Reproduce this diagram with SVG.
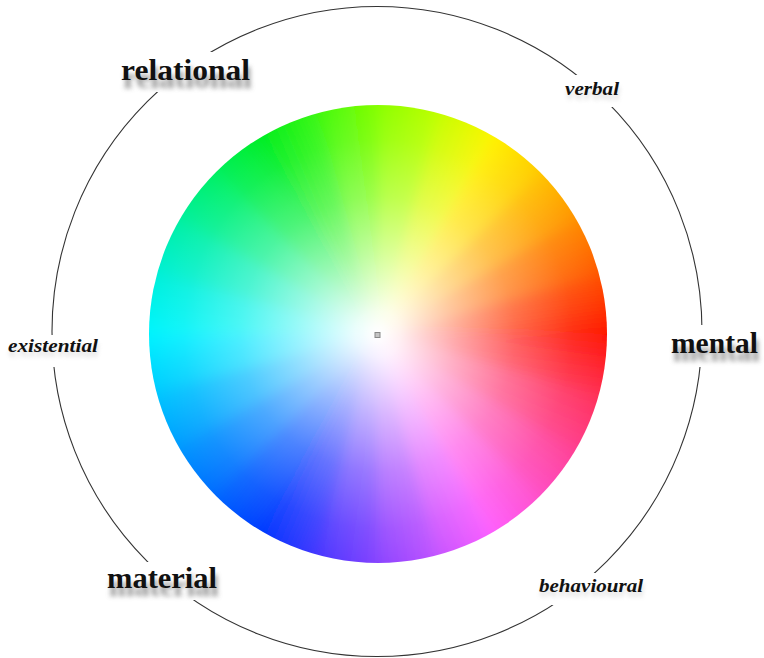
<svg xmlns="http://www.w3.org/2000/svg" width="764" height="658" viewBox="0 0 764 658">
<style>
.bold{font-family:"Liberation Serif","DejaVu Serif",serif;font-weight:bold;font-size:29px;fill:#111}
.ital{font-family:"Liberation Serif","DejaVu Serif",serif;font-weight:bold;font-style:italic;font-size:18px;fill:#111}
.shadow{fill:#666;filter:url(#sh);opacity:0.7}
.shadowi{fill:#999;filter:url(#sh2);opacity:0.3}
.gap{fill:#fff}
.w{stroke-width:1.2}
</style>
<defs>
<filter id="sh" x="-20%" y="-50%" width="140%" height="220%"><feGaussianBlur stdDeviation="2.6"/></filter>
<filter id="sh2" x="-20%" y="-50%" width="140%" height="220%"><feGaussianBlur stdDeviation="2"/></filter>
<filter id="wblur" x="-10%" y="-10%" width="120%" height="120%"><feGaussianBlur stdDeviation="6"/></filter>
<clipPath id="wheelClip"><circle cx="378" cy="334" r="229"/></clipPath>
<linearGradient id="g0" gradientUnits="userSpaceOnUse" x1="610" y1="334" x2="602.1" y2="274"><stop offset="0" stop-color="#FF1500"/><stop offset="1" stop-color="#FF5500"/></linearGradient>
<linearGradient id="g1" gradientUnits="userSpaceOnUse" x1="602.1" y1="274" x2="578.9" y2="218"><stop offset="0" stop-color="#FF5500"/><stop offset="1" stop-color="#FF9000"/></linearGradient>
<linearGradient id="g2" gradientUnits="userSpaceOnUse" x1="578.9" y1="218" x2="542" y2="170"><stop offset="0" stop-color="#FF9000"/><stop offset="1" stop-color="#FFC800"/></linearGradient>
<linearGradient id="g3" gradientUnits="userSpaceOnUse" x1="542" y1="170" x2="494" y2="133.1"><stop offset="0" stop-color="#FFC800"/><stop offset="1" stop-color="#FFF500"/></linearGradient>
<linearGradient id="g4" gradientUnits="userSpaceOnUse" x1="494" y1="133.1" x2="438" y2="109.9"><stop offset="0" stop-color="#FFF500"/><stop offset="1" stop-color="#C0FF00"/></linearGradient>
<linearGradient id="g5" gradientUnits="userSpaceOnUse" x1="438" y1="109.9" x2="378" y2="102"><stop offset="0" stop-color="#C0FF00"/><stop offset="1" stop-color="#88FF00"/></linearGradient>
<linearGradient id="g6" gradientUnits="userSpaceOnUse" x1="378" y1="102" x2="318" y2="109.9"><stop offset="0" stop-color="#88FF00"/><stop offset="1" stop-color="#40F810"/></linearGradient>
<linearGradient id="g7" gradientUnits="userSpaceOnUse" x1="318" y1="109.9" x2="262" y2="133.1"><stop offset="0" stop-color="#40F810"/><stop offset="1" stop-color="#00EE20"/></linearGradient>
<linearGradient id="g8" gradientUnits="userSpaceOnUse" x1="262" y1="133.1" x2="214" y2="170"><stop offset="0" stop-color="#00EE20"/><stop offset="1" stop-color="#00F060"/></linearGradient>
<linearGradient id="g9" gradientUnits="userSpaceOnUse" x1="214" y1="170" x2="177.1" y2="218"><stop offset="0" stop-color="#00F060"/><stop offset="1" stop-color="#00F0A0"/></linearGradient>
<linearGradient id="g10" gradientUnits="userSpaceOnUse" x1="177.1" y1="218" x2="153.9" y2="274"><stop offset="0" stop-color="#00F0A0"/><stop offset="1" stop-color="#00F0D8"/></linearGradient>
<linearGradient id="g11" gradientUnits="userSpaceOnUse" x1="153.9" y1="274" x2="146" y2="334"><stop offset="0" stop-color="#00F0D8"/><stop offset="1" stop-color="#00F5FF"/></linearGradient>
<linearGradient id="g12" gradientUnits="userSpaceOnUse" x1="146" y1="334" x2="153.9" y2="394"><stop offset="0" stop-color="#00F5FF"/><stop offset="1" stop-color="#00C8FF"/></linearGradient>
<linearGradient id="g13" gradientUnits="userSpaceOnUse" x1="153.9" y1="394" x2="177.1" y2="450"><stop offset="0" stop-color="#00C8FF"/><stop offset="1" stop-color="#0098FF"/></linearGradient>
<linearGradient id="g14" gradientUnits="userSpaceOnUse" x1="177.1" y1="450" x2="214" y2="498"><stop offset="0" stop-color="#0098FF"/><stop offset="1" stop-color="#0068FF"/></linearGradient>
<linearGradient id="g15" gradientUnits="userSpaceOnUse" x1="214" y1="498" x2="262" y2="534.9"><stop offset="0" stop-color="#0068FF"/><stop offset="1" stop-color="#0038FF"/></linearGradient>
<linearGradient id="g16" gradientUnits="userSpaceOnUse" x1="262" y1="534.9" x2="318" y2="558.1"><stop offset="0" stop-color="#0038FF"/><stop offset="1" stop-color="#4838FF"/></linearGradient>
<linearGradient id="g17" gradientUnits="userSpaceOnUse" x1="318" y1="558.1" x2="378" y2="566"><stop offset="0" stop-color="#4838FF"/><stop offset="1" stop-color="#8844FF"/></linearGradient>
<linearGradient id="g18" gradientUnits="userSpaceOnUse" x1="378" y1="566" x2="438" y2="558.1"><stop offset="0" stop-color="#8844FF"/><stop offset="1" stop-color="#C455FF"/></linearGradient>
<linearGradient id="g19" gradientUnits="userSpaceOnUse" x1="438" y1="558.1" x2="494" y2="534.9"><stop offset="0" stop-color="#C455FF"/><stop offset="1" stop-color="#FF60FF"/></linearGradient>
<linearGradient id="g20" gradientUnits="userSpaceOnUse" x1="494" y1="534.9" x2="542" y2="498"><stop offset="0" stop-color="#FF60FF"/><stop offset="1" stop-color="#FF50C8"/></linearGradient>
<linearGradient id="g21" gradientUnits="userSpaceOnUse" x1="542" y1="498" x2="578.9" y2="450"><stop offset="0" stop-color="#FF50C8"/><stop offset="1" stop-color="#FF4090"/></linearGradient>
<linearGradient id="g22" gradientUnits="userSpaceOnUse" x1="578.9" y1="450" x2="602.1" y2="394"><stop offset="0" stop-color="#FF4090"/><stop offset="1" stop-color="#FF3055"/></linearGradient>
<linearGradient id="g23" gradientUnits="userSpaceOnUse" x1="602.1" y1="394" x2="610" y2="334"><stop offset="0" stop-color="#FF3055"/><stop offset="1" stop-color="#FF1500"/></linearGradient>
<radialGradient id="whiteOverlay" gradientUnits="userSpaceOnUse" cx="378" cy="334" r="229">
<stop offset="0" stop-color="#fff" stop-opacity="1"/>
<stop offset="0.1" stop-color="#fff" stop-opacity="0.92"/>
<stop offset="0.35" stop-color="#fff" stop-opacity="0.6"/>
<stop offset="0.6" stop-color="#fff" stop-opacity="0.3"/>
<stop offset="0.85" stop-color="#fff" stop-opacity="0.08"/>
<stop offset="1" stop-color="#fff" stop-opacity="0"/>
</radialGradient>
</defs>
<rect width="764" height="658" fill="#fff"/>

<g id="connectors">
<circle cx="377" cy="331.5" r="325" fill="none" stroke="#333" stroke-width="1.1"/>
</g>

<g id="wheel" clip-path="url(#wheelClip)">
<g filter="url(#wblur)">
<g transform="translate(378 334) scale(1.08) translate(-378 -334)">
<path class="w" d="M378 334 L610 334 A232 232 0 0 0 602.1 274 Z" fill="url(#g0)" stroke="url(#g0)"/>
<path class="w" d="M378 334 L602.1 274 A232 232 0 0 0 578.9 218 Z" fill="url(#g1)" stroke="url(#g1)"/>
<path class="w" d="M378 334 L578.9 218 A232 232 0 0 0 542 170 Z" fill="url(#g2)" stroke="url(#g2)"/>
<path class="w" d="M378 334 L542 170 A232 232 0 0 0 494 133.1 Z" fill="url(#g3)" stroke="url(#g3)"/>
<path class="w" d="M378 334 L494 133.1 A232 232 0 0 0 438 109.9 Z" fill="url(#g4)" stroke="url(#g4)"/>
<path class="w" d="M378 334 L438 109.9 A232 232 0 0 0 378 102 Z" fill="url(#g5)" stroke="url(#g5)"/>
<path class="w" d="M378 334 L378 102 A232 232 0 0 0 318 109.9 Z" fill="url(#g6)" stroke="url(#g6)"/>
<path class="w" d="M378 334 L318 109.9 A232 232 0 0 0 262 133.1 Z" fill="url(#g7)" stroke="url(#g7)"/>
<path class="w" d="M378 334 L262 133.1 A232 232 0 0 0 214 170 Z" fill="url(#g8)" stroke="url(#g8)"/>
<path class="w" d="M378 334 L214 170 A232 232 0 0 0 177.1 218 Z" fill="url(#g9)" stroke="url(#g9)"/>
<path class="w" d="M378 334 L177.1 218 A232 232 0 0 0 153.9 274 Z" fill="url(#g10)" stroke="url(#g10)"/>
<path class="w" d="M378 334 L153.9 274 A232 232 0 0 0 146 334 Z" fill="url(#g11)" stroke="url(#g11)"/>
<path class="w" d="M378 334 L146 334 A232 232 0 0 0 153.9 394 Z" fill="url(#g12)" stroke="url(#g12)"/>
<path class="w" d="M378 334 L153.9 394 A232 232 0 0 0 177.1 450 Z" fill="url(#g13)" stroke="url(#g13)"/>
<path class="w" d="M378 334 L177.1 450 A232 232 0 0 0 214 498 Z" fill="url(#g14)" stroke="url(#g14)"/>
<path class="w" d="M378 334 L214 498 A232 232 0 0 0 262 534.9 Z" fill="url(#g15)" stroke="url(#g15)"/>
<path class="w" d="M378 334 L262 534.9 A232 232 0 0 0 318 558.1 Z" fill="url(#g16)" stroke="url(#g16)"/>
<path class="w" d="M378 334 L318 558.1 A232 232 0 0 0 378 566 Z" fill="url(#g17)" stroke="url(#g17)"/>
<path class="w" d="M378 334 L378 566 A232 232 0 0 0 438 558.1 Z" fill="url(#g18)" stroke="url(#g18)"/>
<path class="w" d="M378 334 L438 558.1 A232 232 0 0 0 494 534.9 Z" fill="url(#g19)" stroke="url(#g19)"/>
<path class="w" d="M378 334 L494 534.9 A232 232 0 0 0 542 498 Z" fill="url(#g20)" stroke="url(#g20)"/>
<path class="w" d="M378 334 L542 498 A232 232 0 0 0 578.9 450 Z" fill="url(#g21)" stroke="url(#g21)"/>
<path class="w" d="M378 334 L578.9 450 A232 232 0 0 0 602.1 394 Z" fill="url(#g22)" stroke="url(#g22)"/>
<path class="w" d="M378 334 L602.1 394 A232 232 0 0 0 610 334 Z" fill="url(#g23)" stroke="url(#g23)"/>
</g>
</g>
<circle cx="378" cy="334" r="230" fill="url(#whiteOverlay)"/>
</g>
<g id="center-mark">
<rect x="375" y="332.5" width="5" height="5" fill="#c4c4c4" stroke="#888" stroke-width="1"/>
</g>

<g id="relational">
<rect class="gap" x="115" y="52" width="140" height="40"/>
<text class="bold shadow" x="123" y="88" textLength="129" lengthAdjust="spacingAndGlyphs">relational</text>
<text class="bold" x="121" y="80" textLength="129" lengthAdjust="spacingAndGlyphs">relational</text>
</g>
<g id="verbal">
<rect class="gap" x="558" y="75" width="67" height="32"/>
<text class="ital shadowi" x="566" y="100" textLength="54" lengthAdjust="spacingAndGlyphs">verbal</text>
<text class="ital" x="565" y="95" textLength="54" lengthAdjust="spacingAndGlyphs">verbal</text>
</g>
<g id="mental">
<rect class="gap" x="664" y="325" width="100" height="42"/>
<text class="bold shadow" x="673" y="361" textLength="87" lengthAdjust="spacingAndGlyphs">mental</text>
<text class="bold" x="671" y="353" textLength="87" lengthAdjust="spacingAndGlyphs">mental</text>
</g>
<g id="existential">
<rect class="gap" x="0" y="335" width="106" height="32"/>
<text class="ital shadowi" x="9" y="357" textLength="90" lengthAdjust="spacingAndGlyphs">existential</text>
<text class="ital" x="8" y="352" textLength="90" lengthAdjust="spacingAndGlyphs">existential</text>
</g>
<g id="material">
<rect class="gap" x="100" y="562" width="125" height="38"/>
<text class="bold shadow" x="109" y="596" textLength="110" lengthAdjust="spacingAndGlyphs">material</text>
<text class="bold" x="107" y="588" textLength="110" lengthAdjust="spacingAndGlyphs">material</text>
</g>
<g id="behavioural">
<rect class="gap" x="533" y="573" width="117" height="32"/>
<text class="ital shadowi" x="540" y="597" textLength="104" lengthAdjust="spacingAndGlyphs">behavioural</text>
<text class="ital" x="539" y="592" textLength="104" lengthAdjust="spacingAndGlyphs">behavioural</text>
</g>
</svg>
